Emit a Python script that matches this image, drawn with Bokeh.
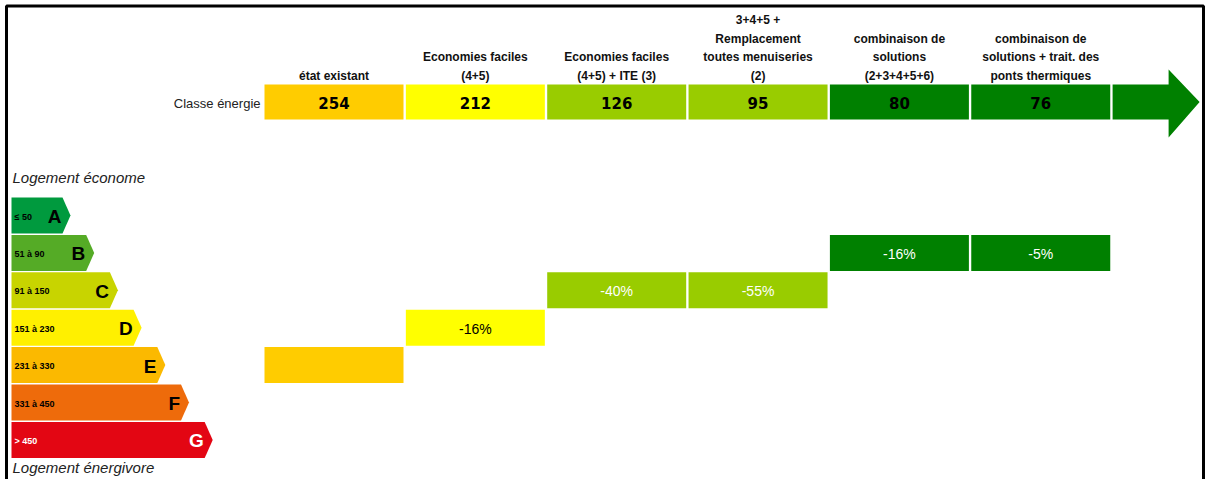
import math
from bokeh.plotting import figure
from bokeh.models import Range1d
from bokeh.embed import file_html
from bokeh.resources import INLINE
from bokeh.core.properties import value

# ---------------- data ----------------
scenario_labels = [
    ["état existant"],
    ["Economies faciles", "(4+5)"],
    ["Economies faciles", "(4+5) + ITE (3)"],
    ["3+4+5 +", "Remplacement", "toutes menuiseries", "(2)"],
    ["combinaison de", "solutions", "(2+3+4+5+6)"],
    ["combinaison de", "solutions + trait. des", "ponts thermiques"],
]
consumption = [254, 212, 126, 95, 80, 76]
savings = ["", "-16%", "-40%", "-55%", "-16%", "-5%"]
scenario_colors = ["#FFCC00", "#FFFF00", "#99CC00", "#99CC00", "#008000", "#008000"]
saving_text_colors = ["black", "black", "white", "white", "white", "white"]

classes = ["A", "B", "C", "D", "E", "F", "G"]
class_ranges = ["≤ 50", "51 à 90", "91 à 150", "151 à 230", "231 à 330", "331 à 450", "> 450"]
class_upper = [50, 90, 150, 230, 330, 450, math.inf]
class_colors = ["#009A3E", "#55AB26", "#C8D400", "#FFF000", "#FBB900", "#EE6B0B", "#E30613"]
class_text_colors = ["black", "black", "black", "black", "black", "black", "white"]

row_title = "Classe énergie"
top_note = "Logement économe"
bottom_note = "Logement énergivore"

# ---------------- layout ----------------
W, H = 1205, 479
p = figure(width=W, height=H, output_backend="svg", toolbar_location=None,
           x_range=Range1d(0, W), y_range=Range1d(H, 0),
           min_border=0, outline_line_color=None)
p.axis.visible = False
p.grid.visible = False
p.background_fill_color = "white"
p.border_fill_color = "white"

col_x0 = 264.0
col_pitch = 141.35
col_w = 139.0
head_top, head_h = 84.0, 35.0
row_top0, row_pitch, row_h = 197.0, 37.4, 36.0
scale_x0 = 11.0
bar_len0, bar_step, tip = 51.0, 23.7, 8.0

n = len(consumption)
col_cx = [col_x0 + i * col_pitch + col_w / 2 for i in range(n)]
head_cy = head_top + head_h / 2

def class_index(v):
    for k, up in enumerate(class_upper):
        if v <= up:
            return k
    return len(class_upper) - 1

row_cy = [row_top0 + k * row_pitch + row_h / 2 for k in range(len(classes))]

# header boxes
p.rect(x=col_cx, y=[head_cy] * n, width=col_w, height=head_h,
       fill_color=scenario_colors, line_color=None)
p.text(x=col_cx, y=[head_cy + 1] * n, text=[str(v) for v in consumption],
       text_align="center", text_baseline="middle",
       text_font=value("DejaVu Sans"), text_font_style="bold",
       text_font_size="15px", text_color="black")

# big arrow at the end of header row
ax0 = col_x0 + n * col_pitch
ax1 = ax0 + 56
axt = ax0 + 87
p.patch(x=[ax0, ax1, ax1, axt, ax1, ax1, ax0],
        y=[head_top, head_top, head_top - 15, head_cy, head_top + head_h + 18,
           head_top + head_h, head_top + head_h],
        fill_color="#008000", line_color=None)

p.text(x=[260], y=[head_cy + 1], text=[row_title], text_align="right",
       text_baseline="middle", text_font=value("Liberation Sans"),
       text_font_size="13px", text_color="#222222")

# scenario header labels
lx, ly, lt = [], [], []
line_sp = 18.5
last_line_y = 75.0
for i, lines in enumerate(scenario_labels):
    m = len(lines)
    for j, t in enumerate(lines):
        lx.append(col_cx[i])
        ly.append(last_line_y - (m - 1 - j) * line_sp)
        lt.append(t)
p.text(x=lx, y=ly, text=lt, text_align="center", text_baseline="middle",
       text_font=value("Liberation Sans"), text_font_style="bold",
       text_font_size="12px", text_color="#111111")

# energy scale arrows
xs, ys = [], []
ends = []
for k in range(len(classes)):
    top = row_top0 + k * row_pitch
    end = scale_x0 + bar_len0 + k * bar_step
    ends.append(end)
    xs.append([scale_x0, end, end + tip, end, scale_x0])
    ys.append([top, top, top + row_h / 2, top + row_h, top + row_h])
p.patches(xs=xs, ys=ys, fill_color=class_colors, line_color=None)
p.text(x=[e - 1 for e in ends], y=[c + 1 for c in row_cy], text=classes,
       text_align="right", text_baseline="middle",
       text_font=value("Liberation Sans"), text_font_style="bold",
       text_font_size="19px", text_color=class_text_colors)
p.text(x=[scale_x0 + 3] * len(classes), y=[c + 1 for c in row_cy], text=class_ranges,
       text_align="left", text_baseline="middle",
       text_font=value("Liberation Sans"), text_font_style="bold",
       text_font_size="9px", text_color=class_text_colors)

p.text(x=[12, 12], y=[177, 467], text=[top_note, bottom_note],
       text_align="left", text_baseline="middle",
       text_font=value("Liberation Sans"), text_font_style="italic",
       text_font_size="15px", text_color="#222222")

# scenario bars on the scale
bar_y = [row_cy[class_index(v)] for v in consumption]
p.rect(x=col_cx, y=bar_y, width=col_w, height=row_h,
       fill_color=scenario_colors, line_color=None)
p.text(x=col_cx, y=[b + 1 for b in bar_y], text=savings,
       text_align="center", text_baseline="middle",
       text_font=value("Liberation Sans"),
       text_font_size="14px", text_color=saving_text_colors)

# frame (left, top, right)
p.line(x=[6, 6, W - 2, W - 2], y=[H, 5.5, 5.5, H],
       line_color="black", line_width=3)

open("out.html", "w").write(file_html(p, INLINE))
